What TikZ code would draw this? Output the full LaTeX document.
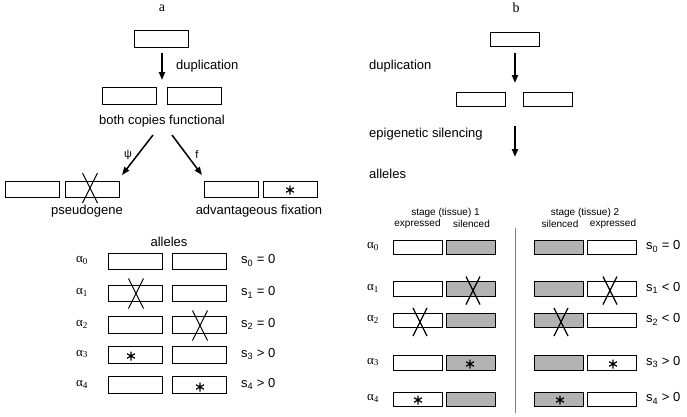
\documentclass[tikz,border=0pt]{standalone}
\usepackage{fontspec}
\setmainfont{Liberation Sans}
\newfontfamily\lserif{Liberation Serif}
\usetikzlibrary{arrows.meta,calc}
\begin{document}
\begin{tikzpicture}[x=1pt,y=-1pt,font=\fontsize{13}{15}\selectfont,
  gbox/.style={draw,line width=0.9pt,minimum width=54pt,minimum height=16.5pt,inner sep=0pt},
  hbox/.style={draw,line width=1pt,minimum width=49pt,minimum height=14.5pt,inner sep=0pt},
  sil/.style={hbox,fill=black!30},
  lbl/.style={inner sep=0pt},
  small/.style={inner sep=0pt,font=\fontsize{10}{11}\selectfont},
  bigarrow/.style={-{Triangle[length=8pt,width=6pt]},line width=2pt},
  diagarrow/.style={-{Triangle[length=8pt,width=6pt]},line width=1.5pt},
  xmark/.pic={\draw[line width=1.1pt] (-7.5,-15) -- (7.5,15) (7.5,-15) -- (-7.5,15);},
  smark/.pic={\draw[line width=1.2pt] (-7,-14) -- (7,14) (7,-14) -- (-7,14);},
  star/.pic={\draw[line width=1.2pt] (0,-4.5) -- (0,4.5) (-3.9,-2.25) -- (3.9,2.25) (-3.9,2.25) -- (3.9,-2.25);}]
\useasboundingbox (0,0) rectangle (687,416);

% ---------- panel a ----------
\node[lbl] (la) at (162,8) {\lserif\fontsize{14}{16}\selectfont a};
\node[gbox] (a0) at (161,39) {};
\node[gbox] (a1l) at (129,96) {};
\node[gbox] (a1r) at (194,96) {};
\coordinate (ad) at (162,80);
\draw[bigarrow] ($(a0.south)+(1,5)$) -- (ad);
\node[lbl,anchor=west] (dupa) at (176,66) {duplication};
\node[lbl] (bcf) at (162,121) {both copies functional};
\coordinate (psiend) at (122,175);
\coordinate (fend) at (202,175);
\draw[diagarrow] (153,135) -- (psiend);
\draw[diagarrow] (172,135) -- (fend);
\node[lbl,font=\fontsize{11}{13}\selectfont] (psi) at (128,155) {ψ};
\node[lbl,font=\fontsize{11}{13}\selectfont] (fl) at (197,155) {f};
\node[gbox] (p1) at (32,189.5) {};
\node[gbox] (p2) at (92,189.5) {};
\node[gbox] (q1) at (231,189.5) {};
\node[gbox] (q2) at (290.5,189.5) {};
\pic at (90,188) {xmark};
\pic at (290,190) {star};
\node[lbl] (pseudo) at (87,211) {pseudogene};
\node[lbl] (advf) at (259,211) {advantageous fixation};
\node[lbl] (alla) at (169,242) {alleles};

\foreach \i/\y/\s in {0/261.5/=,1/293.5/=,2/325/=,3/355/>,4/385/>}{
  \node[lbl] (aa\i) at (82,\y-1) {\lserif α\textsubscript{\i}};
  \node[gbox] (ab\i l) at (135,\y) {};
  \node[gbox] (ab\i r) at (199.5,\y) {};
  \node[lbl,anchor=west] (as\i) at (241,\y-1) {s\textsubscript{\i} \s\ 0};
}
\pic at (136,293.5) {xmark};
\pic at (200,325.5) {xmark};
\pic at (131,356) {star};
\pic at (200,387) {star};

% ---------- panel b ----------
\node[lbl] (lb) at (516,8) {\lserif\fontsize{14}{16}\selectfont b};
\node[hbox] (b0) at (514.5,39.5) {};
\node[hbox] (b1l) at (480.5,99.5) {};
\node[hbox] (b1r) at (548,99.5) {};
\coordinate (bd1) at (515,83);
\draw[bigarrow] ($(b0.south)+(0.5,6)$) -- (bd1);
\coordinate (bd2s) at (515,126);
\coordinate (bd2e) at (515,157);
\draw[bigarrow] (bd2s) -- (bd2e);
\node[lbl,anchor=west] (dupb) at (369,66) {duplication};
\node[lbl,anchor=west] (epi) at (369,134) {epigenetic silencing};
\node[lbl,anchor=west] (allb) at (369,174) {alleles};

\node[small] (st1) at (445.5,213) {stage (tissue) 1};
\node[small] (ex1) at (417.5,224) {expressed};
\node[small] (si1) at (471.5,224) {silenced};
\node[small] (st2) at (585,213) {stage (tissue) 2};
\node[small] (si2) at (560,224) {silenced};
\node[small] (ex2) at (613,224) {expressed};

\coordinate (dvt) at (515,228);
\coordinate (dvb) at (515,413);
\draw[line width=0.8pt,black!50] (dvt) -- (dvb);

\foreach \i/\y/\s in {0/247.5/=,1/289/<,2/320.5/<,3/363/>,4/399.5/>}{
  \node[lbl] (ba\i) at (373,\y-1) {\lserif α\textsubscript{\i}};
  \node[lbl,anchor=west] (bs\i) at (646,\y-1) {s\textsubscript{\i} \s\ 0};
}
\node[hbox] (c0a) at (417.5,247.5) {};
\node[sil]  (c0b) at (471,247.5) {};
\node[sil]  (c0c) at (558.5,247.5) {};
\node[hbox] (c0d) at (611.5,247.5) {};
\node[hbox] (c1a) at (417.5,289) {};
\node[sil]  (c1b) at (471,289) {};
\node[sil]  (c1c) at (558.5,289) {};
\node[hbox] (c1d) at (611.5,289) {};
\node[hbox] (c2a) at (417.5,320.5) {};
\node[sil]  (c2b) at (471,320.5) {};
\node[sil]  (c2c) at (558.5,320.5) {};
\node[hbox] (c2d) at (611.5,320.5) {};
\node[hbox] (c3a) at (417.5,363) {};
\node[sil]  (c3b) at (471,363) {};
\node[sil]  (c3c) at (558.5,363) {};
\node[hbox] (c3d) at (611.5,363) {};
\node[hbox] (c4a) at (417.5,399.5) {};
\node[sil]  (c4b) at (471,399.5) {};
\node[sil]  (c4c) at (558.5,399.5) {};
\node[hbox] (c4d) at (611.5,399.5) {};
\pic at (473,290.5) {smark};
\pic at (610,290.5) {smark};
\pic at (420,322) {smark};
\pic at (561,322) {smark};
\pic at (470,364) {star};
\pic at (613,364) {star};
\pic at (418,400) {star};
\pic at (560,400) {star};
\end{tikzpicture}
\end{document}
